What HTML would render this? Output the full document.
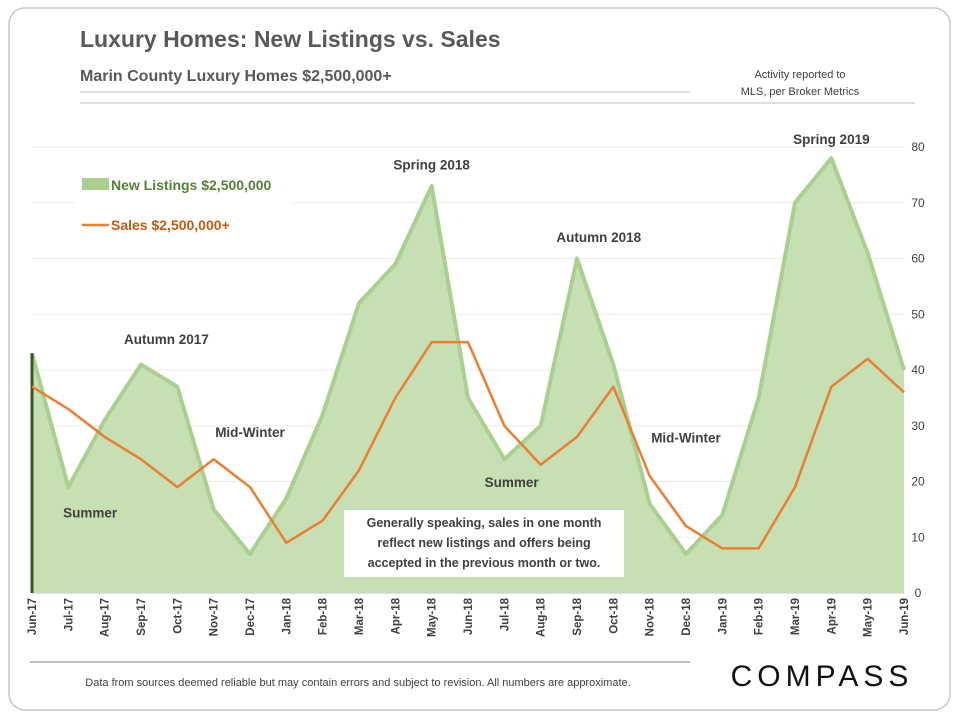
<!DOCTYPE html>
<html><head><meta charset="utf-8"><style>
body{margin:0;background:#fff;font-family:"Liberation Sans",sans-serif;}
svg text{font-family:"Liberation Sans",sans-serif;}
</style></head><body>
<svg width="960" height="720" xmlns="http://www.w3.org/2000/svg">
<rect x="9" y="8" width="941" height="702" rx="16" fill="#fff" stroke="#c8c8c8" stroke-width="1.5"/>
<text x="80" y="47" font-size="23" font-weight="bold" fill="#595959">Luxury Homes: New Listings vs. Sales</text>
<text x="80" y="81" font-size="16" font-weight="bold" fill="#595959">Marin County Luxury Homes $2,500,000+</text>
<line x1="80" y1="92" x2="690" y2="92" stroke="#bfbfbf"/>
<text x="800" y="78" font-size="11" fill="#404040" text-anchor="middle">Activity reported to</text>
<text x="800" y="95" font-size="11" fill="#404040" text-anchor="middle">MLS, per Broker Metrics</text>
<line x1="80" y1="103" x2="915" y2="103" stroke="#bfbfbf"/>
<g id="grid"></g>
<g id="plot"></g>
<g id="labels"></g>
<rect x="75" y="168" width="215" height="80" fill="#fff"/>
<rect x="82" y="178" width="27" height="12" fill="#a9d08e"/>
<text x="111" y="190" font-size="14" font-weight="bold" fill="#548235">New Listings $2,500,000</text>
<line x1="82" y1="225" x2="109" y2="225" stroke="#ed7d31" stroke-width="2.5"/>
<text x="111" y="230" font-size="14" font-weight="bold" fill="#c55a11">Sales $2,500,000+</text>
<rect x="344" y="510" width="280" height="67" fill="#fff"/>
<text x="484" y="527" font-size="12.5" font-weight="bold" fill="#404040" text-anchor="middle">Generally speaking, sales in one month</text>
<text x="484" y="547" font-size="12.5" font-weight="bold" fill="#404040" text-anchor="middle">reflect new listings and offers being</text>
<text x="484" y="567" font-size="12.5" font-weight="bold" fill="#404040" text-anchor="middle">accepted in the previous month or two.</text>
<line x1="30" y1="662" x2="690" y2="662" stroke="#7f7f7f"/>
<text x="358" y="686" font-size="11" fill="#404040" text-anchor="middle">Data from sources deemed reliable but may contain errors and subject to revision. All numbers are approximate.</text>
<text x="822" y="686" font-size="30" fill="#111" text-anchor="middle" letter-spacing="5">COMPASS</text>
</svg>
<script>
const months=["Jun-17","Jul-17","Aug-17","Sep-17","Oct-17","Nov-17","Dec-17","Jan-18","Feb-18","Mar-18","Apr-18","May-18","Jun-18","Jul-18","Aug-18","Sep-18","Oct-18","Nov-18","Dec-18","Jan-19","Feb-19","Mar-19","Apr-19","May-19","Jun-19"];
const listings=[43,19,31,41,37,15,7,17,32,52,59,73,35,24,30,60,41,16,7,14,35,70,78,61,40];
const sales=[37,33,28,24,19,24,19,9,13,22,35,45,45,30,23,28,37,21,12,8,8,19,37,42,36];
const yTicks=[0,10,20,30,40,50,60,70,80];
const notes=[["Summer",1.6,13.5],["Autumn 2017",3.7,44.7],["Mid-Winter",6,28],["Spring 2018",11,76],["Summer",13.2,19],["Autumn 2018",15.6,63],["Mid-Winter",18,27],["Spring 2019",22,80.5]];
const NS="http://www.w3.org/2000/svg";
const X0=32,X1=904,Y0=593,Y1=147;
const x=i=>X0+i*(X1-X0)/(months.length-1);
const y=v=>Y0-v*(Y0-Y1)/80;
function mk(t,a,p){const e=document.createElementNS(NS,t);for(const k in a)e.setAttribute(k,a[k]);document.getElementById(p).appendChild(e);return e;}
yTicks.forEach(v=>{
 const l=mk("line",{x1:X0,x2:X1,y1:y(v),y2:y(v),stroke:v?"#ececec":"#bfbfbf"},"grid");
 
 
 const t=mk("text",{x:918,y:y(v)+4,"font-size":12,fill:"#404040","text-anchor":"middle"},"labels");t.textContent=v;
 
 
});
let pts=listings.map((v,i)=>x(i)+","+y(v)).join(" ");
const area=mk("polygon",{points:x(0)+","+Y0+" "+pts+" "+x(listings.length-1)+","+Y0,fill:"#c6e0b4"},"plot");


const al=mk("polyline",{points:pts,fill:"none",stroke:"#a9d08e","stroke-width":4,"stroke-linejoin":"round"},"plot");


const ed=mk("line",{x1:X0,x2:X0,y1:y(listings[0]),y2:Y0,stroke:"#375623","stroke-width":3},"plot");


const sl=mk("polyline",{points:sales.map((v,i)=>x(i)+","+y(v)).join(" "),fill:"none",stroke:"#ed7d31","stroke-width":2.5,"stroke-linejoin":"round"},"plot");


months.forEach((m,i)=>{
 const t=mk("text",{x:0,y:0,"font-size":11.5,"font-weight":"bold",fill:"#404040","text-anchor":"end",transform:`translate(${x(i)+4},598) rotate(-90)`},"labels");t.textContent=m;
 
 
});
notes.forEach(n=>{
 const t=mk("text",{x:x(n[1]),y:y(n[2]),"font-size":13.5,"font-weight":"bold",fill:"#404040","text-anchor":"middle"},"labels");t.textContent=n[0];
 
 
});
</script>
</body></html>
